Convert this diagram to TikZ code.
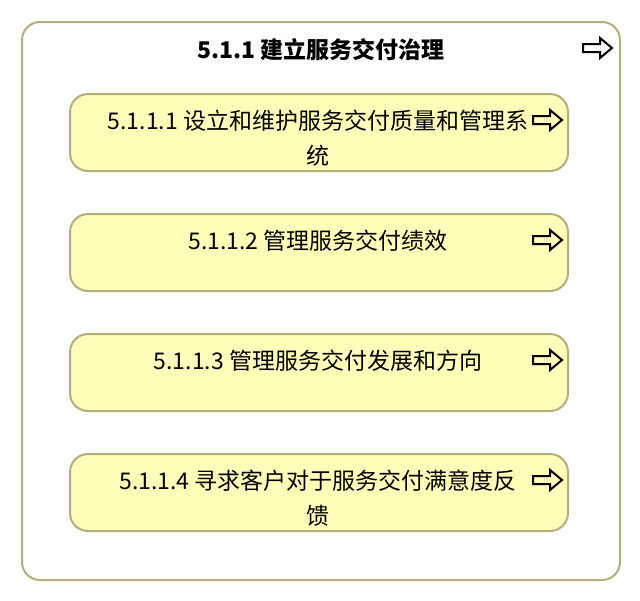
\documentclass[tikz,border=0pt]{standalone}
\usepackage{fontspec}
\setmainfont{Noto Sans CJK SC}
\definecolor{olive}{HTML}{B3B07C}
\definecolor{paleyellow}{HTML}{FFFFBA}
\tikzset{
  x=1pt, y=-1pt,
  outerbox/.style={draw=olive, line width=2pt, fill=white, rounded corners=18pt},
  taskbox/.style={draw=olive, line width=2pt, fill=paleyellow, rounded corners=18pt,
    minimum width=498pt, minimum height=77pt, inner sep=0pt, anchor=north west},
  tasktext/.style={font=\fontsize{23}{35}\selectfont, align=center, inner sep=0pt, anchor=base},
  titletext/.style={font=\fontsize{23}{28}\selectfont\bfseries, inner sep=0pt, anchor=base},
  fwd/.pic={\draw[line width=2pt, line join=miter] (-14.5,-4) -- (2.5,-4) -- (2.5,-10) -- (14.5,0) -- (2.5,10) -- (2.5,4) -- (-14.5,4) -- cycle;}
}
\begin{document}
\begin{tikzpicture}
\useasboundingbox (0,0) rectangle (640,600);
\node[outerbox, minimum width=598pt, minimum height=558pt, anchor=north west, inner sep=0pt] (outer) at (21,21) {};
\node[titletext] (title) at (321,58) {5.1.1 建立服务交付治理};
\pic (arrow0) at (597.5,48) {fwd};

\node[taskbox] (b1) at (69,93) {};
\node[taskbox] (b2) at (69,213) {};
\node[taskbox] (b3) at (69,333) {};
\node[taskbox] (b4) at (69,453) {};

\node[tasktext] (t1) at (318,164) {5.1.1.1 设立和维护服务交付质量和管理系\\统};
\node[tasktext] (t2) at (318,249) {5.1.1.2 管理服务交付绩效};
\node[tasktext] (t3) at (318,369) {5.1.1.3 管理服务交付发展和方向};
\node[tasktext] (t4) at (318,524) {5.1.1.4 寻求客户对于服务交付满意度反\\馈};

\pic (arrow1) at (547.5,120) {fwd};
\pic (arrow2) at (547.5,240) {fwd};
\pic (arrow3) at (547.5,360) {fwd};
\pic (arrow4) at (547.5,480) {fwd};
\end{tikzpicture}
\end{document}
